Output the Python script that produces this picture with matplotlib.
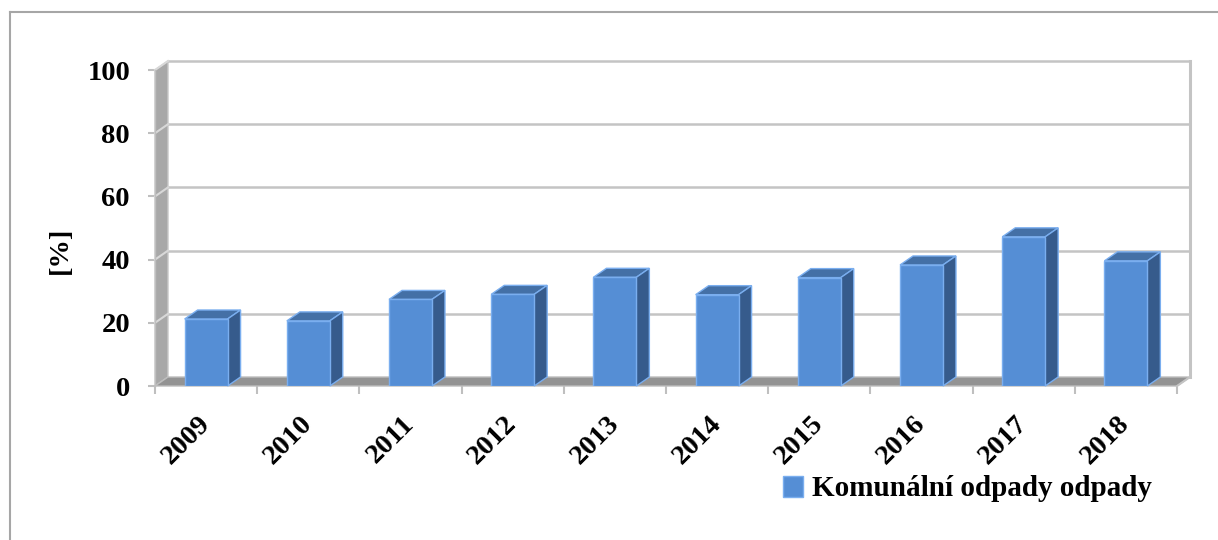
import numpy as np
import matplotlib.pyplot as plt
from matplotlib.patches import Polygon, Patch
from matplotlib.lines import Line2D
import matplotlib.transforms as mtransforms

years = ['2009', '2010', '2011', '2012', '2013', '2014', '2015', '2016', '2017', '2018']
values = [21.2, 20.6, 27.4, 29.0, 34.4, 28.9, 34.3, 38.3, 47.2, 39.6]
yticks = [0, 20, 40, 60, 80, 100]
ylabel = '[%]'
series_name = 'Komunální odpady odpady'

plt.rcParams['font.family'] = ['Liberation Serif', 'DejaVu Serif']
plt.rcParams['font.weight'] = 'bold'

W, H = 1218, 540
fig = plt.figure(figsize=(W / 100, H / 100), dpi=100)
ax = fig.add_axes([155 / W, (H - 386) / H, (1177 - 155) / W, (386 - 70) / H])
n = len(years)
ax.set_xlim(0, n)
ax.set_ylim(0, 100)

# depth of the fake 3d box, in data units
dx = 13 / 102.2
dy = 9 / 3.16

front_c = '#558ed5'
top_c = '#4470a6'
side_c = '#365b8c'
edge_c = '#7aaeef'
grid_c = '#c4c4c4'

# left wall, floor
ax.add_patch(Polygon([(0, 0), (dx, dy), (dx, 100 + dy), (0, 100)], closed=True,
                     facecolor='#a8a8a8', edgecolor='#c8c8c8', lw=1, clip_on=False, zorder=1))
ax.add_patch(Polygon([(0, 0), (n, 0), (n + dx, dy), (dx, dy)], closed=True,
                     facecolor='#939393', edgecolor='#bdbdbd', lw=1, clip_on=False, zorder=1))

# gridlines on back wall and left wall
for v in yticks[1:]:
    ax.plot([dx, n + dx], [v + dy, v + dy], color=grid_c, lw=1.8, clip_on=False, zorder=2)
    ax.plot([0, dx], [v, v + dy], color='#d8d8d8', lw=1.5, clip_on=False, zorder=2)
ax.plot([n + dx, n + dx], [dy, 100 + dy], color=grid_c, lw=2.2, clip_on=False, zorder=2)
ax.plot([n, n + dx], [0, dy], color=grid_c, lw=1.5, clip_on=False, zorder=2)

# columns
x = np.arange(n) + 0.5
bw = 0.42
ax.bar(x, values, width=bw, color=front_c, edgecolor=edge_c, lw=1, zorder=4)
for xi, v in zip(x, values):
    x0, x1 = xi - bw / 2, xi + bw / 2
    ax.add_patch(Polygon([(x0, v), (x1, v), (x1 + dx, v + dy), (x0 + dx, v + dy)], closed=True,
                         facecolor=top_c, edgecolor=edge_c, lw=1, clip_on=False, zorder=3))
    ax.add_patch(Polygon([(x1, 0), (x1 + dx, dy), (x1 + dx, v + dy), (x1, v)], closed=True,
                         facecolor=side_c, edgecolor=edge_c, lw=1, clip_on=False, zorder=3))

for s in ['top', 'right', 'bottom']:
    ax.spines[s].set_visible(False)
ax.spines['left'].set_color('#bfbfbf')
ax.spines['left'].set_linewidth(1)

ax.set_yticks(yticks)
ax.set_yticklabels([str(t) for t in yticks], fontsize=20.5, fontweight='bold')
ax.tick_params(axis='y', length=5, width=1.5, color='#bfbfbf', pad=13)

ax.set_xticks(np.arange(n + 1))
ax.set_xticklabels([])
ax.tick_params(axis='x', length=6, width=1.5, color='#bfbfbf')

off = mtransforms.ScaledTranslation(9 / 100, -25 / 100, fig.dpi_scale_trans)
for xi, lab in zip(x, years):
    ax.text(xi, 0, lab, rotation=45, ha='right', va='top', fontsize=20.5, fontweight='bold',
            transform=ax.get_xaxis_transform() + off)

fig.text(60 / W, (H - 250) / H, ylabel, rotation=90, ha='center', va='center',
         fontsize=20.5, fontweight='bold')

handle = Patch(facecolor=front_c, edgecolor=edge_c)
fig.legend([handle], [series_name], loc='center left', bbox_to_anchor=(783 / W, (H - 489) / H),
           frameon=False, handlelength=0.7, handleheight=0.7, handletextpad=0.3,
           borderpad=0, borderaxespad=0, prop={'weight': 'bold', 'size': 21})

# outer chart frame
fig.add_artist(Line2D([10 / W, 10 / W], [0, (H - 12) / H], color='#a6a6a6', lw=1.5))
fig.add_artist(Line2D([10 / W, 1], [(H - 12) / H, (H - 12) / H], color='#a6a6a6', lw=1.5))

fig.savefig('out.png', dpi=100)
